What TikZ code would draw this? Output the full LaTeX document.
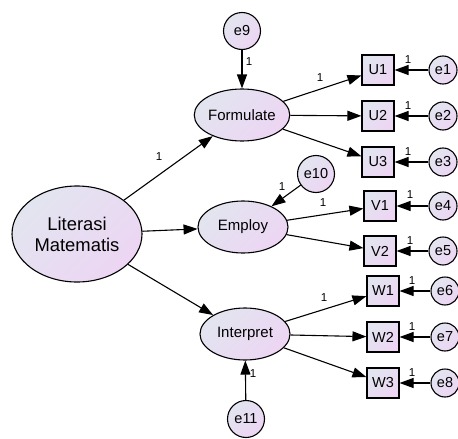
\documentclass[tikz,border=0pt]{standalone}
\usepackage{fontspec}
\setmainfont{Liberation Sans}
\usetikzlibrary{arrows.meta,shapes.geometric}
\definecolor{cA}{RGB}{226,229,240}
\definecolor{cB}{RGB}{237,213,243}
\begin{document}
\begin{tikzpicture}[x=1pt,y=-1pt,
  fillgrad/.style={top color=cA, bottom color=cB, shading angle=45},
  latent/.style={ellipse, draw, line width=1.1pt, fillgrad, inner sep=0pt,
    minimum width=90pt, minimum height=52pt, font=\fontsize{15}{18}\selectfont},
  bigl/.style={latent, minimum width=130pt, minimum height=96pt, align=center,
    font=\fontsize{18.4}{21}\selectfont},
  obs/.style={rectangle, draw, line width=1.1pt, fillgrad, inner sep=0pt,
    minimum width=32pt, minimum height=30pt, font=\fontsize{14.5}{17}\selectfont},
  err/.style={circle, draw, line width=1.1pt, fillgrad, inner sep=0pt,
    minimum size=28pt, font=\fontsize{14.5}{17}\selectfont},
  errbig/.style={err, minimum size=37pt},
  arr/.style={-{Triangle[length=14pt,width=10pt]}, line width=1.1pt},
  lab/.style={inner sep=0pt, font=\fontsize{11.5}{13}\selectfont}
]
\useasboundingbox (0,0) rectangle (458,439);

% latent variables
\node[bigl] (L) at (77,234) {Literasi\\Matematis};
\node[latent] (F) at (242,115) {Formulate};
\node[latent] (E) at (243,227) {Employ};
\node[latent] (I) at (245,334) {Interpret};

% disturbances
\node[errbig] (e9) at (242,31) {e9};
\node[errbig] (e10) at (316,174) {e10};
\node[errbig] (e11) at (246,419) {e11};

% observed
\node[obs] (U1) at (378,70) {U1};
\node[obs] (U2) at (378,116) {U2};
\node[obs] (U3) at (378,162) {U3};
\node[obs] (V1) at (380,206) {V1};
\node[obs] (V2) at (380,251) {V2};
\node[obs] (W1) at (383,291) {W1};
\node[obs] (W2) at (383,337) {W2};
\node[obs] (W3) at (383,383) {W3};

% errors
\node[err] (e1) at (443,70) {e1};
\node[err] (e2) at (443,116) {e2};
\node[err] (e3) at (443,162) {e3};
\node[err] (e4) at (443,206) {e4};
\node[err] (e5) at (443,251) {e5};
\node[err] (e6) at (445,291) {e6};
\node[err] (e7) at (445,337) {e7};
\node[err] (e8) at (445,383) {e8};

% structural paths
\draw[arr] (L) -- (F);
\draw[arr] (L) -- (E);
\draw[arr] (L) -- (I);
\draw[arr] (e9) -- (F);
\draw[arr] (e10) -- (E);
\draw[arr] (e11) -- (I);

% measurement paths
\draw[arr] (F) -- (U1);
\draw[arr] (F) -- (U2);
\draw[arr] (F) -- (U3);
\draw[arr] (E) -- (V1);
\draw[arr] (E) -- (V2);
\draw[arr] (I) -- (W1);
\draw[arr] (I) -- (W2);
\draw[arr] (I) -- (W3);

\draw[arr] (e1) -- (U1);
\draw[arr] (e2) -- (U2);
\draw[arr] (e3) -- (U3);
\draw[arr] (e4) -- (V1);
\draw[arr] (e5) -- (V2);
\draw[arr] (e6) -- (W1);
\draw[arr] (e7) -- (W2);
\draw[arr] (e8) -- (W3);

% labels
\node[lab] (lLF) at (159,157) {1};
\node[lab] (lFU) at (320,78) {1};
\node[lab] (lEV) at (323,203) {1};
\node[lab] (lIW) at (324,298) {1};
\node[lab] (l9) at (249,62) {1};
\node[lab] (l10) at (282,187) {1};
\node[lab] (l11) at (253,374) {1};
\node[lab] (l1) at (408,60) {1};
\node[lab] (l2) at (408,106) {1};
\node[lab] (l3) at (408,152) {1};
\node[lab] (l4) at (410,195) {1};
\node[lab] (l5) at (410,241) {1};
\node[lab] (l6) at (412,281) {1};
\node[lab] (l7) at (412,327) {1};
\node[lab] (l8) at (412,373) {1};
\end{tikzpicture}
\end{document}
